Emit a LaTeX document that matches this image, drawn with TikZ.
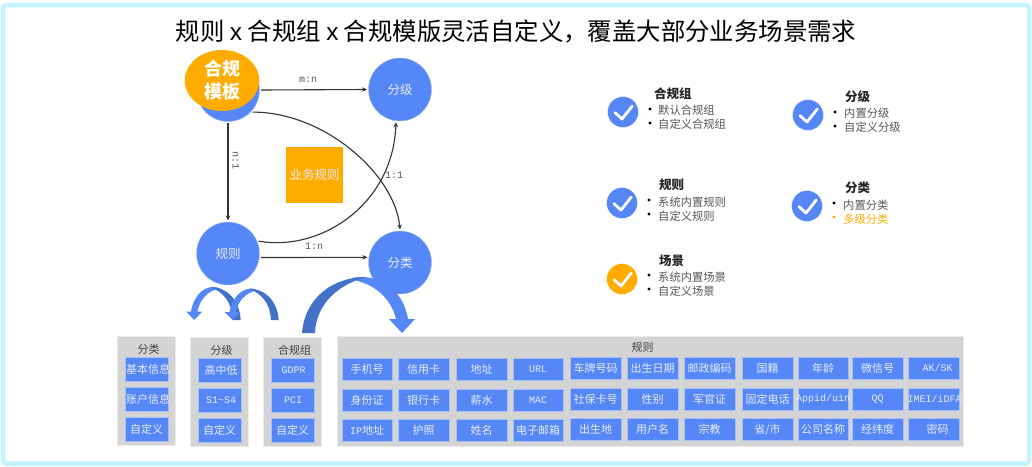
\documentclass[tikz,border=0pt]{standalone}
\usepackage{fontspec}
\setmainfont{Noto Sans CJK SC}
\newfontfamily\latinmono{Liberation Mono}
\newfontfamily\titlelatin{Liberation Sans}
\usetikzlibrary{arrows.meta,shapes.geometric}
\definecolor{cblue}{HTML}{5587F6}
\definecolor{dblue}{HTML}{4472C9}
\definecolor{cedge}{HTML}{A6C0F5}
\definecolor{corange}{HTML}{FFAB00}
\definecolor{cgray}{HTML}{D4D4D4}
\definecolor{cframe}{HTML}{C4F2FF}
\definecolor{ctext}{HTML}{555555}
\definecolor{cwhite}{HTML}{E6EDFC}
\newcommand{\mono}[1]{{\latinmono\fontsize{10}{11}\selectfont #1}}
\newcommand{\zw}[1]{\makebox[0pt]{#1}}
\tikzset{
  x=1pt,y=-1pt,
  bigcircle/.style={circle,fill=cblue,draw=cedge,line width=.4pt,minimum size=63,inner sep=0,outer sep=1.5pt,text=cwhite,font=\fontsize{12.5}{14}\selectfont},
  link/.style={draw=black!80,line width=1.1pt,-{Stealth[length=5pt,width=4.5pt]}},
  edgelabel/.style={inner sep=0,text=ctext,font=\latinmono\fontsize{10}{11}\selectfont},
  panel/.style={rectangle,fill=cgray,draw=black!8,line width=.4pt,inner sep=0},
  cell/.style={rectangle,fill=cblue,draw=cedge,line width=.5pt,inner sep=0,text=cwhite,font=\fontsize{11}{13}\selectfont},
  smallcell/.style={cell,minimum width=43,minimum height=24},
  ruleCell/.style={cell,minimum height=22},
  grouptitle/.style={inner sep=0,text=black!75,font=\fontsize{11}{13}\selectfont},
  tick/.style={circle,minimum size=31,inner sep=0,draw=white,line width=.3pt},
  heading/.style={inner sep=0,anchor=west,text=black!85,font=\bfseries\fontsize{12.5}{14}\selectfont},
  item/.style={inner sep=0,anchor=west,text=ctext,font=\fontsize{11.3}{13}\selectfont},
  dot/.style={circle,fill=black,minimum size=3.4,inner sep=0},
}
% curved block arrow in local coordinates, tip at u=100, v up.
% #1 placement, #2 dark band width, #3 light band half width, #4 head half width
\newcommand{\blockarrow}[4]{%
  \begin{scope}[#1]
    \fill[cblue] (50,55) .. controls (75,60) and ({100-#3+7},45) .. ({100+#3},14) -- ({100+#4},14) -- (100,0) -- ({100-#4},14) -- ({100-#3},14) .. controls ({100-#3-5},35) and (72,{56-#2/2}) .. (50,{56-#2/5}) -- cycle;
    \fill[dblue] (0,0) .. controls (3,35) and (30,56) .. (65,56) .. controls (38,{56-#2/2}) and ({#2+1},30) .. (#2,0) -- cycle;
  \end{scope}}
\newcommand{\checkmk}[1]{\draw[white,line width=2.8pt,line cap=round,line join=round] ([shift={(-8,.7)}]#1.center) -- ([shift={(-1,7)}]#1.center) -- ([shift={(9.3,-6)}]#1.center);}
\begin{document}
\begin{tikzpicture}
\useasboundingbox (0,0) rectangle (1032,466);
\fill[white] (0,0) rectangle (1032,466);
\draw[cframe,line width=4.5pt,rounded corners=3pt] (3,5) rectangle (1029,463.5);

\node[inner sep=0,text=black,font=\fontsize{24.4}{28}\selectfont] (title) at (516,31) {规则 {\titlelatin x} 合规组 {\titlelatin x} 合规模版灵活自定义，覆盖大部分业务场景需求};

% graph
\node[bigcircle] (hg) at (228,90) {};
\node[bigcircle] (fj) at (400,89.5) {分级};
\node[bigcircle] (gz) at (228,253.5) {规则};
\node[bigcircle] (fl) at (400,262.5) {分类};
\node[ellipse,fill=corange,minimum width=74.5,minimum height=61,inner sep=0,text=white,align=center,font=\bfseries\fontsize{18}{22.7}\selectfont] (tpl) at (222,80.5) {合规\\模板};
\node[rectangle,fill=corange,minimum width=57,minimum height=56,inner sep=0,text=cwhite,font=\fontsize{12.5}{14}\selectfont] (biz) at (314.5,175) {业务规则};

\draw[link] (hg.east) -- (fj.west);
\draw[link] (hg.south) -- (gz.north);
\draw[link] (gz.-7) -- (fl.171);
\draw[link] (hg.-42) .. controls (325,112) and (395,175) .. (fl.north);
\draw[link] (gz.22) .. controls (320,252) and (393,205) .. (fj.-97);

\node[edgelabel] (lmn) at (308,80) {m:n};
\node[edgelabel,rotate=-90] (ln1) at (236,160) {n:1};
\node[edgelabel] (l11) at (394,175) {1:1};
\node[edgelabel] (l1n) at (314,246) {1:n};

% block arrows
\blockarrow{shift={(240.7,320)},xscale=-.465,yscale=-.59}{17}{7}{17}
\blockarrow{shift={(278.7,320)},xscale=-.46,yscale=-.56}{17}{7}{17}
\blockarrow{shift={(302,333)},yscale=-1}{13}{6}{13}

% right list
\node[tick,fill=cblue] (c1) at (623,112) {};
\node[tick,fill=cblue] (c2) at (808,115) {};
\node[tick,fill=cblue] (c3) at (622,203) {};
\node[tick,fill=cblue] (c4) at (807,206) {};
\node[tick,fill=corange] (c5) at (622,279) {};
\checkmk{c1}\checkmk{c2}\checkmk{c3}\checkmk{c4}\checkmk{c5}

\node[heading] (h1) at (654,94) {合规组};
\node[dot] (d11) at (650,109) {};
\node[dot] (d12) at (650,123) {};
\node[item] (t11) at (658,110.5) {默认合规组};
\node[item] (t12) at (658,124.5) {自定义合规组};

\node[heading] (h2) at (845,97) {分级};
\node[dot] (d21) at (835,112) {};
\node[dot] (d22) at (835,126) {};
\node[item] (t21) at (844,113.5) {内置分级};
\node[item] (t22) at (844,127.5) {自定义分级};

\node[heading] (h3) at (659,185) {规则};
\node[dot] (d31) at (649,200) {};
\node[dot] (d32) at (649,214) {};
\node[item] (t31) at (658,202) {系统内置规则};
\node[item] (t32) at (658,216) {自定义规则};

\node[heading] (h4) at (845,188) {分类};
\node[dot] (d41) at (834,203) {};
\node[dot,fill=corange] (d42) at (834,217) {};
\node[item] (t41) at (843,205) {内置分类};
\node[item,text=corange] (t42) at (843,219) {多级分类};

\node[heading] (h5) at (659,261) {场景};
\node[dot] (d51) at (649,275) {};
\node[dot] (d52) at (649,289) {};
\node[item] (t51) at (658,277) {系统内置场景};
\node[item] (t52) at (658,291) {自定义场景};

% panels
\node[panel,minimum width=57.5,minimum height=109] (p1) at (146.25,390.5) {};
\node[panel,minimum width=58,minimum height=109] (p2) at (219,391.5) {};
\node[panel,minimum width=58,minimum height=109] (p3) at (292,391.5) {};
\node[panel,minimum width=626,minimum height=110] (p4) at (650,391) {};

\node[grouptitle] (g1) at (148.5,349) {分类};
\node[grouptitle] (g2) at (221.5,350) {分级};
\node[grouptitle] (g3) at (294.5,350) {合规组};
\node[grouptitle] (g4) at (642.5,347) {规则};

\node[smallcell] (a1) at (146.5,369) {\zw{\hspace{3pt}基本信息}};
\node[smallcell] (a2) at (146.5,399) {\zw{\hspace{3pt}账户信息}};
\node[smallcell] (a3) at (146.5,429) {\zw{自定义}};
\node[smallcell] (b1) at (219.5,370) {\zw{\hspace{3pt}高中低}};
\node[smallcell] (b2) at (219.5,400) {\zw{\hspace{3pt}\mono{S1\textasciitilde S4}}};
\node[smallcell] (b3) at (219.5,430) {\zw{自定义}};
\node[smallcell] (e1) at (292.5,370) {\zw{\hspace{2pt}\mono{GDPR}}};
\node[smallcell] (e2) at (292.5,400) {\zw{\hspace{1pt}\mono{PCI}}};
\node[smallcell] (e3) at (292.5,430) {\zw{自定义}};

% rule grid: column, centre x, width, y offset, three labels
\foreach \c/\x/\w/\dy/\ta/\tb/\tc in {
  1/367/50/0/手机号/身份证/{\mono{IP}地址},
  2/423.5/51/0/信用卡/银行卡/护照,
  3/481.5/51/0/地址/薪水/姓名,
  4/538/50/0/\mono{URL}/\mono{MAC}/电子邮箱,
  5/595.5/51/-1/车牌号码/社保卡号/出生地,
  6/652.5/51/-1/出生日期/性别/用户名,
  7/709.5/51/-1/邮政编码/军官证/宗教,
  8/767.5/51/-1/国籍/固定电话/{省/市},
  9/823/50/-1/年龄/{\mono{Appid/uin}}/公司名称,
  10/877.5/51/-1/微信号/\mono{QQ}/经纬度,
  11/933.5/51/-1/\hspace{8pt}\mono{AK/SK}/\hspace{2pt}\mono{IMEI/iDFA}/\hspace{8pt}密码}{
  \node[ruleCell,minimum width=\w] (r\c-1) at (\x,369+\dy) {\zw{\ta}};
  \node[ruleCell,minimum width=\w] (r\c-2) at (\x,400+\dy) {\zw{\tb}};
  \node[ruleCell,minimum width=\w] (r\c-3) at (\x,430.5+\dy) {\zw{\tc}};
}
\end{tikzpicture}
\end{document}
